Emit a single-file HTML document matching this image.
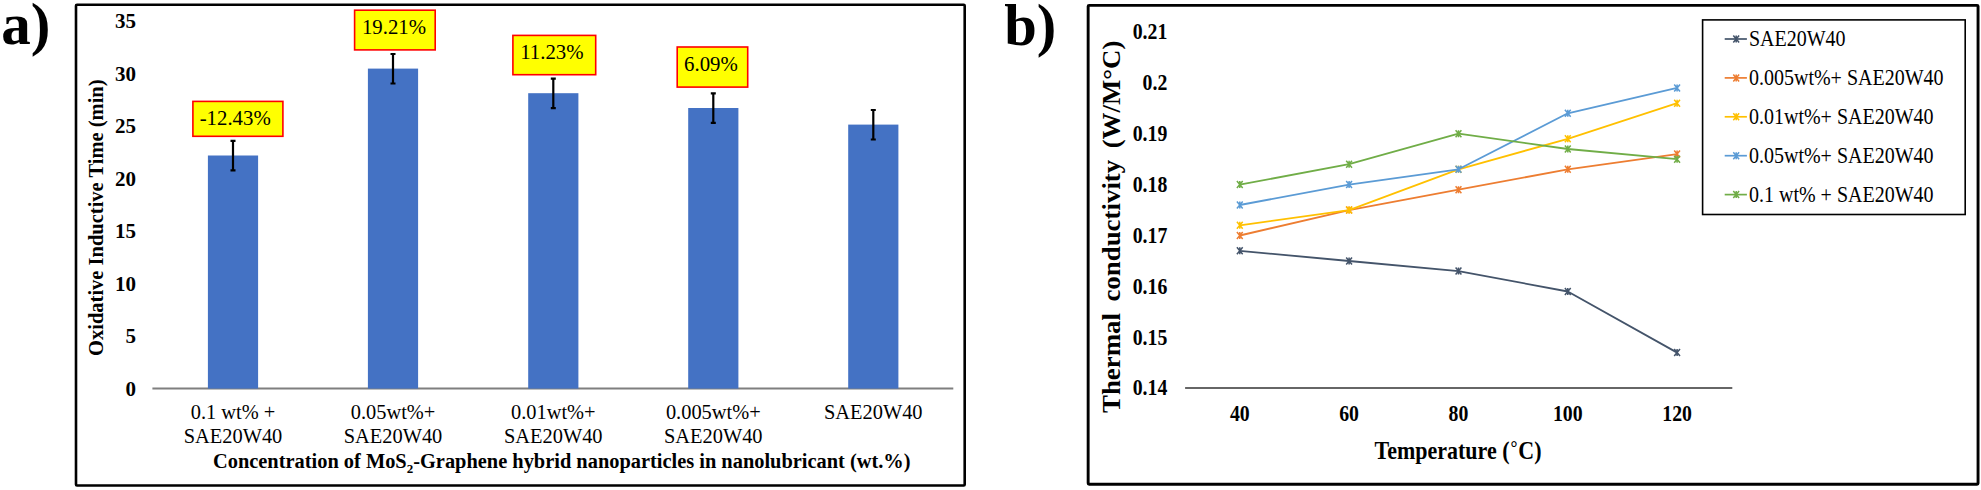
<!DOCTYPE html>
<html><head><meta charset="utf-8"><title>Figure</title>
<style>html,body{margin:0;padding:0;background:#fff;}svg{display:block;}text{font-family:"Liberation Serif","Times New Roman",serif;fill:#000;}.b{font-weight:bold;}</style>
</head><body>
<svg width="1981" height="490" viewBox="0 0 1981 490">
<rect x="0" y="0" width="1981" height="490" fill="#ffffff"/>
<text class="b" x="1.3" y="43.9" font-size="59">a)</text>
<text class="b" x="1004.2" y="45" font-size="58.6">b)</text>
<rect x="76.00" y="4.70" width="888.70" height="480.80" fill="none" stroke="#000" stroke-width="2.6" rx="1"/>
<line x1="152.4" y1="388.6" x2="953.3" y2="388.6" stroke="#7f7f7f" stroke-width="2"/>
<rect x="207.9" y="155.5" width="50.2" height="233.1" fill="#4472c4"/>
<rect x="367.9" y="68.6" width="50.2" height="320.0" fill="#4472c4"/>
<rect x="528.2" y="93.2" width="50.2" height="295.4" fill="#4472c4"/>
<rect x="688.2" y="108.0" width="50.2" height="280.6" fill="#4472c4"/>
<rect x="848.2" y="124.6" width="50.2" height="264.0" fill="#4472c4"/>
<path d="M233.0 140.3V171.0M230.5 140.9H235.5M230.5 170.4H235.5" stroke="#000" stroke-width="2.2" fill="none"/>
<path d="M393.0 53.4V84.1M390.5 54.0H395.5M390.5 83.5H395.5" stroke="#000" stroke-width="2.2" fill="none"/>
<path d="M553.3 78.0V108.7M550.8 78.6H555.8M550.8 108.1H555.8" stroke="#000" stroke-width="2.2" fill="none"/>
<path d="M713.3 92.8V123.5M710.8 93.4H715.8M710.8 122.9H715.8" stroke="#000" stroke-width="2.2" fill="none"/>
<path d="M873.3 109.4V140.1M870.8 110.0H875.8M870.8 139.5H875.8" stroke="#000" stroke-width="2.2" fill="none"/>
<text class="b" x="136" y="395.5" font-size="21" text-anchor="end">0</text>
<text class="b" x="136" y="343.0" font-size="21" text-anchor="end">5</text>
<text class="b" x="136" y="290.5" font-size="21" text-anchor="end">10</text>
<text class="b" x="136" y="238.0" font-size="21" text-anchor="end">15</text>
<text class="b" x="136" y="185.5" font-size="21" text-anchor="end">20</text>
<text class="b" x="136" y="133.0" font-size="21" text-anchor="end">25</text>
<text class="b" x="136" y="80.5" font-size="21" text-anchor="end">30</text>
<text class="b" x="136" y="28.0" font-size="21" text-anchor="end">35</text>
<text class="b" transform="translate(103.2,217.7) rotate(-90)" font-size="20.5" text-anchor="middle">Oxidative Inductive Time (min)</text>
<text x="233.0" y="419.2" font-size="20.4" text-anchor="middle">0.1 wt% +</text>
<text x="233.0" y="442.5" font-size="20.4" text-anchor="middle">SAE20W40</text>
<text x="393.0" y="419.2" font-size="20.4" text-anchor="middle">0.05wt%+</text>
<text x="393.0" y="442.5" font-size="20.4" text-anchor="middle">SAE20W40</text>
<text x="553.3" y="419.2" font-size="20.4" text-anchor="middle">0.01wt%+</text>
<text x="553.3" y="442.5" font-size="20.4" text-anchor="middle">SAE20W40</text>
<text x="713.3" y="419.2" font-size="20.4" text-anchor="middle">0.005wt%+</text>
<text x="713.3" y="442.5" font-size="20.4" text-anchor="middle">SAE20W40</text>
<text x="873.3" y="419.2" font-size="20.4" text-anchor="middle">SAE20W40</text>
<text class="b" x="213" y="468.0" font-size="20.4">Concentration of MoS<tspan font-size="13" dy="4.5">2</tspan><tspan dy="-4.5">-Graphene hybrid nanoparticles in nanolubricant (wt.%)</tspan></text>
<rect x="192.9" y="101.4" width="90.0" height="34.9" fill="#ffff00" stroke="#ff0000" stroke-width="1.6"/>
<text x="235.2" y="125.2" font-size="20.8" text-anchor="middle">-12.43%</text>
<rect x="354.6" y="10.2" width="80.6" height="39.7" fill="#ffff00" stroke="#ff0000" stroke-width="1.6"/>
<text x="394.0" y="33.7" font-size="20.8" text-anchor="middle">19.21%</text>
<rect x="512.9" y="35.4" width="82.8" height="39.3" fill="#ffff00" stroke="#ff0000" stroke-width="1.6"/>
<text x="551.9" y="58.6" font-size="20.8" text-anchor="middle">11.23%</text>
<rect x="677.2" y="47.0" width="70.5" height="40.1" fill="#ffff00" stroke="#ff0000" stroke-width="1.6"/>
<text x="710.9" y="71.1" font-size="20.8" text-anchor="middle">6.09%</text>
<rect x="1088.15" y="5.35" width="889.90" height="478.90" fill="none" stroke="#000" stroke-width="2.9" rx="1"/>
<line x1="1185.1" y1="388" x2="1732.3" y2="388" stroke="#666666" stroke-width="2"/>
<text class="b" transform="translate(1167.3,395.4) scale(0.875,1)" font-size="22.6" text-anchor="end">0.14</text>
<text class="b" transform="translate(1167.3,344.5) scale(0.875,1)" font-size="22.6" text-anchor="end">0.15</text>
<text class="b" transform="translate(1167.3,293.6) scale(0.875,1)" font-size="22.6" text-anchor="end">0.16</text>
<text class="b" transform="translate(1167.3,242.7) scale(0.875,1)" font-size="22.6" text-anchor="end">0.17</text>
<text class="b" transform="translate(1167.3,191.8) scale(0.875,1)" font-size="22.6" text-anchor="end">0.18</text>
<text class="b" transform="translate(1167.3,140.9) scale(0.875,1)" font-size="22.6" text-anchor="end">0.19</text>
<text class="b" transform="translate(1167.3,90.0) scale(0.875,1)" font-size="22.6" text-anchor="end">0.2</text>
<text class="b" transform="translate(1167.3,39.1) scale(0.875,1)" font-size="22.6" text-anchor="end">0.21</text>
<text class="b" transform="translate(1239.8,421.2) scale(0.875,1)" font-size="22.6" text-anchor="middle">40</text>
<text class="b" transform="translate(1349.1,421.2) scale(0.875,1)" font-size="22.6" text-anchor="middle">60</text>
<text class="b" transform="translate(1458.5,421.2) scale(0.875,1)" font-size="22.6" text-anchor="middle">80</text>
<text class="b" transform="translate(1567.8,421.2) scale(0.875,1)" font-size="22.6" text-anchor="middle">100</text>
<text class="b" transform="translate(1677.1,421.2) scale(0.875,1)" font-size="22.6" text-anchor="middle">120</text>
<text class="b" transform="translate(1458,458.8) scale(0.894,1)" font-size="24.6" text-anchor="middle">Temperature (<tspan font-size="19.5" dy="-4.5" dx="1">°</tspan><tspan dy="4.5" dx="1">C)</tspan></text>
<text class="b" transform="translate(1120.2,226.8) rotate(-90) scale(1.05,1)" font-size="25.6" text-anchor="middle" word-spacing="4.5">Thermal conductivity (W/M°C)</text>
<polyline points="1239.8,250.8 1349.1,261.0 1458.5,271.1 1567.8,291.5 1677.1,352.6" fill="none" stroke="#44546a" stroke-width="1.8" stroke-linejoin="round"/>
<path d="M1236.9 247.3L1242.7 254.3M1236.9 254.3L1242.7 247.3M1239.8 247.3V254.3" stroke="#44546a" stroke-width="1.5" fill="none"/>
<path d="M1346.2 257.5L1352.0 264.5M1346.2 264.5L1352.0 257.5M1349.1 257.5V264.5" stroke="#44546a" stroke-width="1.5" fill="none"/>
<path d="M1455.6 267.6L1461.4 274.6M1455.6 274.6L1461.4 267.6M1458.5 267.6V274.6" stroke="#44546a" stroke-width="1.5" fill="none"/>
<path d="M1564.9 288.0L1570.7 295.0M1564.9 295.0L1570.7 288.0M1567.8 288.0V295.0" stroke="#44546a" stroke-width="1.5" fill="none"/>
<path d="M1674.2 349.1L1680.0 356.1M1674.2 356.1L1680.0 349.1M1677.1 349.1V356.1" stroke="#44546a" stroke-width="1.5" fill="none"/>
<polyline points="1239.8,235.5 1349.1,210.1 1458.5,189.7 1567.8,169.3 1677.1,154.1" fill="none" stroke="#ed7d31" stroke-width="1.8" stroke-linejoin="round"/>
<path d="M1236.9 232.0L1242.7 239.0M1236.9 239.0L1242.7 232.0M1239.8 232.0V239.0" stroke="#ed7d31" stroke-width="1.5" fill="none"/>
<path d="M1346.2 206.6L1352.0 213.6M1346.2 213.6L1352.0 206.6M1349.1 206.6V213.6" stroke="#ed7d31" stroke-width="1.5" fill="none"/>
<path d="M1455.6 186.2L1461.4 193.2M1455.6 193.2L1461.4 186.2M1458.5 186.2V193.2" stroke="#ed7d31" stroke-width="1.5" fill="none"/>
<path d="M1564.9 165.8L1570.7 172.8M1564.9 172.8L1570.7 165.8M1567.8 165.8V172.8" stroke="#ed7d31" stroke-width="1.5" fill="none"/>
<path d="M1674.2 150.6L1680.0 157.6M1674.2 157.6L1680.0 150.6M1677.1 150.6V157.6" stroke="#ed7d31" stroke-width="1.5" fill="none"/>
<polyline points="1239.8,225.3 1349.1,210.1 1458.5,169.3 1567.8,138.8 1677.1,103.2" fill="none" stroke="#ffc000" stroke-width="1.8" stroke-linejoin="round"/>
<path d="M1236.9 221.8L1242.7 228.8M1236.9 228.8L1242.7 221.8M1239.8 221.8V228.8" stroke="#ffc000" stroke-width="1.5" fill="none"/>
<path d="M1346.2 206.6L1352.0 213.6M1346.2 213.6L1352.0 206.6M1349.1 206.6V213.6" stroke="#ffc000" stroke-width="1.5" fill="none"/>
<path d="M1455.6 165.8L1461.4 172.8M1455.6 172.8L1461.4 165.8M1458.5 165.8V172.8" stroke="#ffc000" stroke-width="1.5" fill="none"/>
<path d="M1564.9 135.3L1570.7 142.3M1564.9 142.3L1570.7 135.3M1567.8 135.3V142.3" stroke="#ffc000" stroke-width="1.5" fill="none"/>
<path d="M1674.2 99.7L1680.0 106.7M1674.2 106.7L1680.0 99.7M1677.1 99.7V106.7" stroke="#ffc000" stroke-width="1.5" fill="none"/>
<polyline points="1239.8,205.0 1349.1,184.6 1458.5,169.3 1567.8,113.3 1677.1,87.9" fill="none" stroke="#5b9bd5" stroke-width="1.8" stroke-linejoin="round"/>
<path d="M1236.9 201.5L1242.7 208.5M1236.9 208.5L1242.7 201.5M1239.8 201.5V208.5" stroke="#5b9bd5" stroke-width="1.5" fill="none"/>
<path d="M1346.2 181.1L1352.0 188.1M1346.2 188.1L1352.0 181.1M1349.1 181.1V188.1" stroke="#5b9bd5" stroke-width="1.5" fill="none"/>
<path d="M1455.6 165.8L1461.4 172.8M1455.6 172.8L1461.4 165.8M1458.5 165.8V172.8" stroke="#5b9bd5" stroke-width="1.5" fill="none"/>
<path d="M1564.9 109.8L1570.7 116.8M1564.9 116.8L1570.7 109.8M1567.8 109.8V116.8" stroke="#5b9bd5" stroke-width="1.5" fill="none"/>
<path d="M1674.2 84.4L1680.0 91.4M1674.2 91.4L1680.0 84.4M1677.1 84.4V91.4" stroke="#5b9bd5" stroke-width="1.5" fill="none"/>
<polyline points="1239.8,184.6 1349.1,164.2 1458.5,133.7 1567.8,149.0 1677.1,159.2" fill="none" stroke="#70ad47" stroke-width="1.8" stroke-linejoin="round"/>
<path d="M1236.9 181.1L1242.7 188.1M1236.9 188.1L1242.7 181.1M1239.8 181.1V188.1" stroke="#70ad47" stroke-width="1.5" fill="none"/>
<path d="M1346.2 160.7L1352.0 167.7M1346.2 167.7L1352.0 160.7M1349.1 160.7V167.7" stroke="#70ad47" stroke-width="1.5" fill="none"/>
<path d="M1455.6 130.2L1461.4 137.2M1455.6 137.2L1461.4 130.2M1458.5 130.2V137.2" stroke="#70ad47" stroke-width="1.5" fill="none"/>
<path d="M1564.9 145.5L1570.7 152.5M1564.9 152.5L1570.7 145.5M1567.8 145.5V152.5" stroke="#70ad47" stroke-width="1.5" fill="none"/>
<path d="M1674.2 155.7L1680.0 162.7M1674.2 162.7L1680.0 155.7M1677.1 155.7V162.7" stroke="#70ad47" stroke-width="1.5" fill="none"/>
<rect x="1702.6" y="19.9" width="262.6" height="194.6" fill="#fff" stroke="#000" stroke-width="1.6"/>
<line x1="1724.7" y1="39.0" x2="1746.9" y2="39.0" stroke="#44546a" stroke-width="1.7"/>
<path d="M1733.3 35.5L1739.1 42.5M1733.3 42.5L1739.1 35.5M1736.2 35.5V42.5" stroke="#44546a" stroke-width="1.5" fill="none"/>
<text transform="translate(1749,46.0) scale(0.885,1)" font-size="22.6">SAE20W40</text>
<line x1="1724.7" y1="77.9" x2="1746.9" y2="77.9" stroke="#ed7d31" stroke-width="1.7"/>
<path d="M1733.3 74.4L1739.1 81.4M1733.3 81.4L1739.1 74.4M1736.2 74.4V81.4" stroke="#ed7d31" stroke-width="1.5" fill="none"/>
<text transform="translate(1749,84.9) scale(0.885,1)" font-size="22.6">0.005wt%+ SAE20W40</text>
<line x1="1724.7" y1="116.8" x2="1746.9" y2="116.8" stroke="#ffc000" stroke-width="1.7"/>
<path d="M1733.3 113.3L1739.1 120.3M1733.3 120.3L1739.1 113.3M1736.2 113.3V120.3" stroke="#ffc000" stroke-width="1.5" fill="none"/>
<text transform="translate(1749,123.8) scale(0.885,1)" font-size="22.6">0.01wt%+ SAE20W40</text>
<line x1="1724.7" y1="155.7" x2="1746.9" y2="155.7" stroke="#5b9bd5" stroke-width="1.7"/>
<path d="M1733.3 152.2L1739.1 159.2M1733.3 159.2L1739.1 152.2M1736.2 152.2V159.2" stroke="#5b9bd5" stroke-width="1.5" fill="none"/>
<text transform="translate(1749,162.7) scale(0.885,1)" font-size="22.6">0.05wt%+ SAE20W40</text>
<line x1="1724.7" y1="194.6" x2="1746.9" y2="194.6" stroke="#70ad47" stroke-width="1.7"/>
<path d="M1733.3 191.1L1739.1 198.1M1733.3 198.1L1739.1 191.1M1736.2 191.1V198.1" stroke="#70ad47" stroke-width="1.5" fill="none"/>
<text transform="translate(1749,201.6) scale(0.885,1)" font-size="22.6">0.1 wt% + SAE20W40</text>
</svg></body></html>
